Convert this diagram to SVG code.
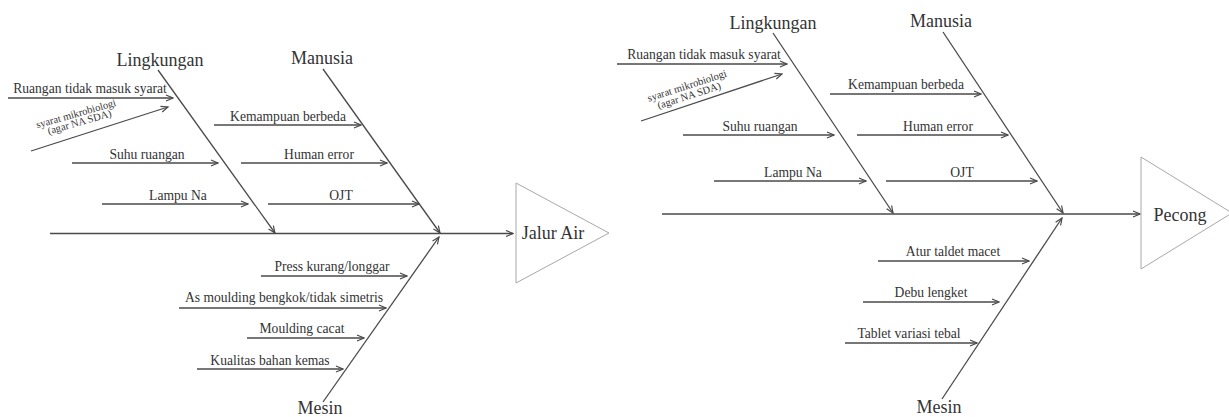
<svg xmlns="http://www.w3.org/2000/svg" width="1229" height="417" viewBox="0 0 1229 417">
<style>
.ar{stroke:#4a4a4a;stroke-width:1.3;fill:none;marker-end:url(#ah)}
.tri{stroke:#a8a8a8;stroke-width:1;fill:#fff}
text{fill:#333}
.h{font-size:18px;text-anchor:middle}
.s{font-size:13.6px;text-anchor:middle}
.xs{font-size:10.5px;text-anchor:middle}
</style>
<defs>
<marker id="ah" markerWidth="9" markerHeight="8" refX="8" refY="4" orient="auto" markerUnits="userSpaceOnUse">
<path d="M1,1 L8,4 L1,7" fill="none" stroke="#4a4a4a" stroke-width="1.2"/>
</marker>
</defs>
<rect width="1229" height="417" fill="#fff"/>

<g id="connectors">
<line class="ar" x1="50" y1="233.5" x2="513" y2="233.5"/>
<line class="ar" x1="158" y1="70" x2="275" y2="233"/>
<line class="ar" x1="323" y1="69" x2="440" y2="233"/>
<line class="ar" x1="323" y1="402" x2="439" y2="237"/>
<line class="ar" x1="8" y1="98" x2="173" y2="98"/>
<line class="ar" x1="31" y1="151" x2="168" y2="107"/>
<line class="ar" x1="72" y1="163" x2="218" y2="163"/>
<line class="ar" x1="102" y1="204" x2="248" y2="204"/>
<line class="ar" x1="214" y1="125" x2="361" y2="125"/>
<line class="ar" x1="241" y1="163" x2="387" y2="163"/>
<line class="ar" x1="268" y1="204" x2="419" y2="204"/>
<line class="ar" x1="261" y1="276" x2="407" y2="276"/>
<line class="ar" x1="179" y1="308" x2="386" y2="308"/>
<line class="ar" x1="247" y1="338" x2="364" y2="338"/>
<line class="ar" x1="197" y1="369" x2="343" y2="369"/>
<line class="ar" x1="662" y1="214" x2="1140" y2="214"/>
<line class="ar" x1="773" y1="33" x2="893" y2="213"/>
<line class="ar" x1="943" y1="32" x2="1063" y2="213"/>
<line class="ar" x1="942" y1="399" x2="1062" y2="218"/>
<line class="ar" x1="617" y1="64" x2="787" y2="64"/>
<line class="ar" x1="641" y1="121" x2="782" y2="74"/>
<line class="ar" x1="683" y1="135" x2="834" y2="135"/>
<line class="ar" x1="714" y1="181" x2="866" y2="181"/>
<line class="ar" x1="830" y1="94" x2="981" y2="94"/>
<line class="ar" x1="857" y1="135" x2="1008" y2="135"/>
<line class="ar" x1="886" y1="181" x2="1037" y2="181"/>
<line class="ar" x1="878" y1="261" x2="1029" y2="261"/>
<line class="ar" x1="863" y1="302" x2="999" y2="302"/>
<line class="ar" x1="845" y1="343" x2="977" y2="343"/>
</g>

<g font-family="'Liberation Serif', 'Times New Roman', 'DejaVu Serif', serif">
<g id="effect-jalur-air">
<polygon class="tri" points="516,183 609,233 516,283"/>
<text class="h" x="553" y="239">Jalur Air</text>
</g>
<g id="effect-pecong">
<polygon class="tri" points="1141,157 1232,213 1141,269"/>
<text class="h" x="1180" y="221">Pecong</text>
</g>

<g id="left-lingkungan">
<text class="h" x="160" y="66">Lingkungan</text>
<text class="s" x="90" y="93">Ruangan tidak masuk syarat</text>
<g transform="translate(77,117) rotate(-16)">
<text class="xs" x="0" y="0">syarat mikrobiologi</text>
<text class="xs" x="1" y="9">(agar NA SDA)</text>
</g>
<text class="s" x="147" y="159">Suhu ruangan</text>
<text class="s" x="178" y="200">Lampu Na</text>
</g>
<g id="left-manusia">
<text class="h" x="322" y="64">Manusia</text>
<text class="s" x="288" y="121">Kemampuan berbeda</text>
<text class="s" x="319" y="159">Human error</text>
<text class="s" x="341" y="200">OJT</text>
</g>
<g id="left-mesin">
<text class="h" x="320" y="414">Mesin</text>
<text class="s" x="332" y="271">Press kurang/longgar</text>
<text class="s" x="284" y="302">As moulding bengkok/tidak simetris</text>
<text class="s" x="302" y="333">Moulding cacat</text>
<text class="s" x="270" y="365">Kualitas bahan kemas</text>
</g>

<g id="right-lingkungan">
<text class="h" x="773" y="29">Lingkungan</text>
<text class="s" x="704" y="59">Ruangan tidak masuk syarat</text>
<g transform="translate(688,89) rotate(-18)">
<text class="xs" x="0" y="0">syarat mikrobiologi</text>
<text class="xs" x="-1" y="10">(agar NA SDA)</text>
</g>
<text class="s" x="760" y="131">Suhu ruangan</text>
<text class="s" x="793" y="177">Lampu Na</text>
</g>
<g id="right-manusia">
<text class="h" x="941" y="27">Manusia</text>
<text class="s" x="906" y="89">Kemampuan berbeda</text>
<text class="s" x="938" y="131">Human error</text>
<text class="s" x="962" y="177">OJT</text>
</g>
<g id="right-mesin">
<text class="h" x="939" y="413">Mesin</text>
<text class="s" x="953" y="256">Atur taldet macet</text>
<text class="s" x="931" y="297">Debu lengket</text>
<text class="s" x="909" y="338">Tablet variasi tebal</text>
</g>
</g>
</svg>
